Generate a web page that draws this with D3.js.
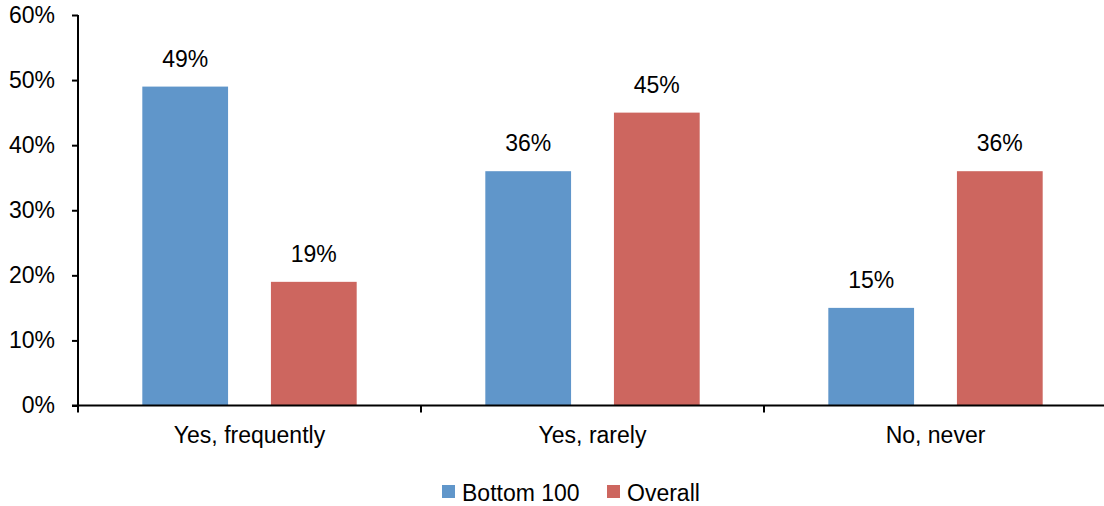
<!DOCTYPE html>
<html>
<head>
<meta charset="utf-8">
<script src="https://cdn.jsdelivr.net/npm/d3@7"></script>
<style>
  html, body { margin: 0; padding: 0; background: #fff; }
  svg { display: block; font-family: "Liberation Sans", Arial, sans-serif; }
</style>
</head>
<body>
<svg id="chart" width="1104" height="506"></svg>
<script>
// Survey responses by group
const categories = ["Yes, frequently", "Yes, rarely", "No, never"];
const seriesNames = ["Bottom 100", "Overall"];
const bottom100 = [49, 36, 15];
const overall = [19, 45, 36];
const yTicks = [0, 10, 20, 30, 40, 50, 60];
const colors = ["#6096ca", "#cd665f"];

const FONT_SIZE = 23;

const seriesValues = [bottom100, overall];
const rows = categories.map((c, i) => ({
  category: c,
  values: seriesNames.map((s, j) => ({ series: s, value: seriesValues[j][i] }))
}));

const svg = d3.select("#chart");
const margin = { left: 78, right: -3, top: 15, bottom: 100 };
const W = 1104, H = 506;

const x0 = d3.scaleBand()
  .domain(categories)
  .range([margin.left, W - margin.right])
  .padding(0);

const x1 = d3.scaleBand()
  .domain(seriesNames)
  .range([0, x0.bandwidth()])
  .paddingInner(1 / 3)
  .paddingOuter(0.5);

const y = d3.scaleLinear()
  .domain([0, 60])
  .range([H - margin.bottom - 0.5, margin.top]);

const color = d3.scaleOrdinal().domain(seriesNames).range(colors);

// Bars
const groups = svg.append("g")
  .selectAll("g")
  .data(rows)
  .join("g")
  .attr("transform", d => `translate(${x0(d.category)},0)`);

groups.selectAll("rect")
  .data(d => d.values)
  .join("rect")
  .attr("x", d => x1(d.series))
  .attr("y", d => y(d.value))
  .attr("width", x1.bandwidth())
  .attr("height", d => y(0) - y(d.value))
  .attr("fill", d => color(d.series));

// Value labels
groups.selectAll("text")
  .data(d => d.values)
  .join("text")
  .attr("x", d => x1(d.series) + x1.bandwidth() / 2)
  .attr("y", d => y(d.value) - 20)
  .attr("text-anchor", "middle")
  .attr("font-size", FONT_SIZE)
  .attr("fill", "#000")
  .text(d => d.value + "%");

// Y axis
const yAxis = d3.axisLeft(y)
  .tickValues(yTicks)
  .tickSize(6)
  .tickPadding(17)
  .tickFormat(d => d + "%");

const gy = svg.append("g")
  .attr("transform", `translate(${margin.left},0)`)
  .call(yAxis);
gy.select(".domain").attr("stroke", "#000").attr("stroke-width", 2)
  .attr("d", `M0,${margin.top}V${y(0)}`);
gy.selectAll(".tick line").attr("stroke", "#000").attr("stroke-width", 2);
gy.selectAll(".tick text")
  .attr("font-size", FONT_SIZE)
  .attr("font-family", "Liberation Sans, Arial, sans-serif")
  .attr("fill", "#000");

// X axis with tick marks at category boundaries
const gx = svg.append("g")
  .attr("transform", `translate(0,${y(0)})`);
gx.append("line")
  .attr("x1", margin.left - 6)
  .attr("x2", W)
  .attr("stroke", "#000")
  .attr("stroke-width", 2);
const boundaries = categories.map(c => x0(c));
gx.selectAll("line.tick")
  .data(boundaries)
  .join("line")
  .attr("class", "tick")
  .attr("x1", d => d)
  .attr("x2", d => d)
  .attr("y1", 0)
  .attr("y2", 7)
  .attr("stroke", "#000")
  .attr("stroke-width", 2);
gx.selectAll("text")
  .data(categories)
  .join("text")
  .attr("x", d => x0(d) + x0.bandwidth() / 2)
  .attr("y", 37.5)
  .attr("text-anchor", "middle")
  .attr("font-size", FONT_SIZE)
  .attr("fill", "#000")
  .text(d => d);

// Legend
const legend = svg.append("g").attr("transform", "translate(442,0)");
const legendX = [0, 165];
const items = legend.selectAll("g")
  .data(seriesNames)
  .join("g")
  .attr("transform", (d, i) => `translate(${legendX[i]},0)`);
items.append("rect")
  .attr("x", 0)
  .attr("y", 485)
  .attr("width", 13)
  .attr("height", 13)
  .attr("fill", d => color(d));
items.append("text")
  .attr("x", 20)
  .attr("y", 501)
  .attr("font-size", FONT_SIZE)
  .attr("fill", "#000")
  .text(d => d);
</script>
</body>
</html>
